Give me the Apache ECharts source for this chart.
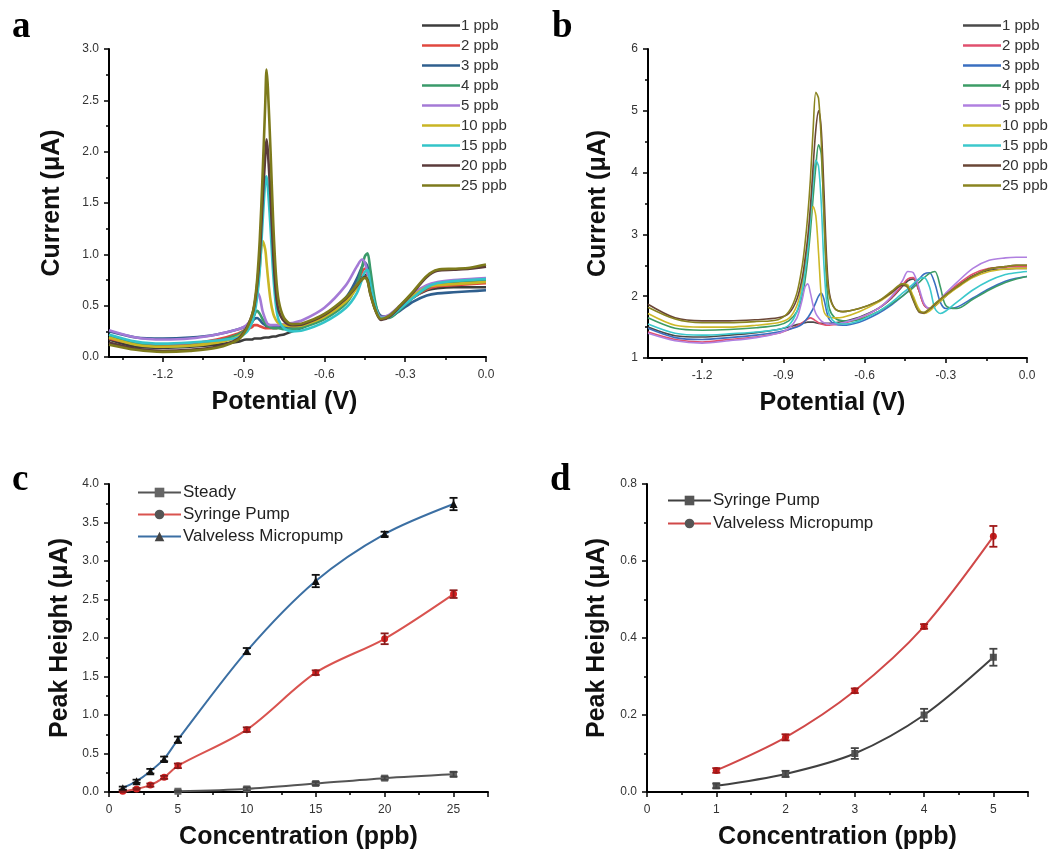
<!DOCTYPE html>
<html><head><meta charset="utf-8">
<script src="https://cdn.jsdelivr.net/npm/echarts@6/dist/echarts.min.js"></script>
<style>html,body{margin:0;padding:0;background:#fff}#c{width:1060px;height:855px}</style>
</head><body><div id="c"></div>
<script>
// ---------- Panel a/b data ----------
const concLabels = ['1 ppb','2 ppb','3 ppb','4 ppb','5 ppb','10 ppb','15 ppb','20 ppb','25 ppb'];
const potA = [-1.4,-1.3,-1.2,-1.1,-1.0,-0.92,-0.89,-0.87,-0.86,-0.85,-0.84,-0.83,-0.82,-0.815,-0.81,-0.80,-0.79,-0.78,-0.77,-0.75,-0.72,-0.68,-0.6,-0.52,-0.48,-0.46,-0.45,-0.44,-0.43,-0.41,-0.39,-0.36,-0.32,-0.27,-0.22,-0.18,-0.12,-0.06,0];
const a1  = [0.17,0.10,0.09,0.10,0.12,0.15,0.17,0.17,0.18,0.18,0.18,0.185,0.19,0.19,0.19,0.195,0.20,0.20,0.21,0.22,0.25,0.29,0.39,0.56,0.70,0.78,0.80,0.77,0.64,0.46,0.37,0.39,0.47,0.58,0.65,0.67,0.68,0.68,0.68];
const a2  = [0.18,0.13,0.12,0.13,0.17,0.23,0.27,0.29,0.31,0.31,0.30,0.29,0.28,0.28,0.28,0.28,0.28,0.28,0.29,0.29,0.30,0.32,0.40,0.57,0.72,0.83,0.86,0.82,0.68,0.48,0.39,0.40,0.48,0.58,0.66,0.69,0.70,0.71,0.72];
const a3  = [0.25,0.19,0.18,0.19,0.22,0.27,0.30,0.34,0.37,0.38,0.36,0.33,0.31,0.30,0.30,0.29,0.29,0.29,0.29,0.29,0.29,0.31,0.40,0.58,0.76,0.88,0.92,0.88,0.72,0.50,0.40,0.39,0.45,0.54,0.60,0.62,0.63,0.64,0.65];
const a4  = [0.20,0.13,0.10,0.11,0.15,0.22,0.27,0.33,0.41,0.45,0.42,0.37,0.33,0.31,0.30,0.29,0.28,0.28,0.28,0.27,0.27,0.29,0.37,0.52,0.70,0.88,0.98,1.01,0.86,0.52,0.38,0.38,0.46,0.58,0.67,0.71,0.73,0.74,0.75];
const a5  = [0.26,0.19,0.17,0.18,0.22,0.27,0.31,0.38,0.50,0.63,0.58,0.45,0.37,0.34,0.32,0.31,0.31,0.31,0.31,0.32,0.33,0.36,0.48,0.70,0.88,0.95,0.92,0.82,0.66,0.47,0.39,0.41,0.50,0.62,0.70,0.73,0.75,0.76,0.77];
const a10 = [0.19,0.12,0.10,0.11,0.14,0.20,0.27,0.36,0.45,0.62,0.88,1.13,1.05,0.92,0.78,0.55,0.42,0.36,0.33,0.31,0.30,0.31,0.39,0.54,0.67,0.75,0.78,0.76,0.64,0.46,0.37,0.39,0.48,0.60,0.68,0.70,0.71,0.72,0.73];
const a15 = [0.22,0.15,0.13,0.14,0.16,0.19,0.24,0.33,0.42,0.58,0.85,1.30,1.70,1.76,1.65,1.25,0.80,0.50,0.36,0.28,0.25,0.26,0.34,0.48,0.62,0.76,0.83,0.85,0.72,0.48,0.38,0.39,0.47,0.58,0.68,0.72,0.74,0.75,0.76];
const a20 = [0.14,0.08,0.06,0.07,0.10,0.18,0.28,0.40,0.50,0.70,1.00,1.50,1.95,2.12,2.00,1.55,1.00,0.62,0.45,0.35,0.31,0.32,0.41,0.57,0.69,0.76,0.78,0.75,0.62,0.45,0.36,0.39,0.49,0.63,0.78,0.84,0.85,0.86,0.88];
const a25 = [0.12,0.07,0.05,0.06,0.09,0.17,0.27,0.40,0.52,0.75,1.15,1.75,2.45,2.80,2.62,2.00,1.30,0.80,0.55,0.38,0.32,0.33,0.42,0.58,0.70,0.76,0.77,0.74,0.62,0.45,0.37,0.40,0.50,0.64,0.79,0.85,0.86,0.87,0.90];

const potB = [-1.4,-1.3,-1.2,-1.1,-1.0,-0.92,-0.88,-0.85,-0.83,-0.82,-0.81,-0.80,-0.79,-0.78,-0.77,-0.76,-0.75,-0.74,-0.73,-0.71,-0.68,-0.62,-0.55,-0.5,-0.46,-0.44,-0.42,-0.40,-0.38,-0.36,-0.34,-0.32,-0.30,-0.26,-0.2,-0.14,-0.08,-0.04,0];
const b1  = [1.50,1.36,1.34,1.37,1.41,1.46,1.50,1.54,1.56,1.57,1.58,1.58,1.58,1.57,1.56,1.56,1.56,1.56,1.56,1.57,1.59,1.66,1.80,1.97,2.16,2.25,2.28,2.10,1.86,1.80,1.84,1.92,2.00,2.15,2.33,2.42,2.44,2.45,2.45];
const b2  = [1.42,1.30,1.26,1.30,1.34,1.40,1.46,1.52,1.57,1.60,1.63,1.65,1.63,1.60,1.57,1.55,1.54,1.53,1.53,1.54,1.56,1.64,1.80,1.98,2.18,2.28,2.30,2.10,1.85,1.80,1.85,1.94,2.03,2.18,2.36,2.45,2.47,2.48,2.48];
const b3  = [1.48,1.33,1.30,1.33,1.37,1.42,1.46,1.50,1.55,1.60,1.65,1.72,1.80,1.90,2.00,2.05,1.95,1.75,1.62,1.55,1.53,1.58,1.72,1.86,2.00,2.08,2.17,2.27,2.36,2.38,2.20,1.90,1.80,1.82,1.97,2.12,2.24,2.29,2.32];
const b4  = [1.65,1.48,1.45,1.46,1.49,1.53,1.60,1.75,2.00,2.25,2.60,3.05,3.60,4.10,4.45,4.30,3.30,2.20,1.80,1.65,1.60,1.62,1.75,1.88,2.00,2.07,2.14,2.22,2.30,2.37,2.40,2.15,1.85,1.80,1.95,2.10,2.22,2.28,2.32];
const b5  = [1.40,1.28,1.24,1.28,1.33,1.40,1.48,1.65,1.95,2.15,2.20,2.05,1.85,1.72,1.65,1.60,1.57,1.56,1.55,1.55,1.57,1.65,1.80,2.00,2.25,2.40,2.38,2.15,1.88,1.80,1.85,1.95,2.05,2.22,2.45,2.58,2.62,2.63,2.63];
const b10 = [1.72,1.53,1.50,1.50,1.53,1.57,1.64,1.85,2.20,2.50,2.85,3.25,3.45,3.30,2.70,2.00,1.75,1.68,1.66,1.65,1.66,1.75,1.90,2.05,2.20,2.18,2.00,1.80,1.72,1.76,1.84,1.92,2.00,2.13,2.30,2.40,2.44,2.45,2.45];
const b15 = [1.55,1.40,1.37,1.39,1.42,1.46,1.53,1.75,2.10,2.40,2.75,3.25,3.85,4.20,4.10,3.50,2.50,1.90,1.70,1.58,1.55,1.60,1.75,1.90,2.05,2.12,2.20,2.28,2.30,2.15,1.80,1.72,1.76,1.90,2.10,2.25,2.35,2.38,2.40];
const b20 = [1.87,1.65,1.60,1.60,1.62,1.65,1.72,1.95,2.30,2.60,2.95,3.45,4.10,4.70,5.00,4.70,3.70,2.60,2.05,1.80,1.75,1.80,1.92,2.06,2.18,2.14,1.93,1.75,1.73,1.79,1.87,1.95,2.02,2.15,2.32,2.44,2.48,2.50,2.50];
const b25 = [1.82,1.63,1.57,1.57,1.59,1.62,1.75,2.05,2.50,2.85,3.30,3.90,4.70,5.30,5.20,4.50,3.30,2.40,2.00,1.80,1.75,1.80,1.92,2.08,2.20,2.15,1.95,1.76,1.74,1.80,1.88,1.95,2.02,2.15,2.32,2.44,2.48,2.50,2.50];

const colorsA = ['#3c3c3c','#e0483f','#2f5f8e','#3a9a6a','#a47ad6','#c9b524','#33c4c8','#5b3b3b','#7d7a1c'];
const colorsB = ['#4a4a4a','#e0506e','#3a6fc0','#3c9c66','#b080e0','#cdb828','#3cc8cc','#6a4636','#8a8420'];
const seriesA = [a1,a2,a3,a4,a5,a10,a15,a20,a25];
const seriesB = [b1,b2,b3,b4,b5,b10,b15,b20,b25];
const xTicksAB = [-1.2,-0.9,-0.6,-0.3,0];
const xMinorAB = [-1.35,-1.05,-0.75,-0.45,-0.15];

// ---------- Panel c data ----------
const concC = [1,2,3,4,5,10,15,20,25];
const cValveless = [0.05,0.14,0.27,0.43,0.68,1.83,2.74,3.35,3.74];
const cValvelessErr = [0.02,0.02,0.03,0.03,0.04,0.04,0.08,0.03,0.08];
const cSyringe = [0.01,0.04,0.09,0.19,0.34,0.81,1.55,1.99,2.57];
const cSyringeErr = [0.01,0.01,0.02,0.02,0.03,0.03,0.03,0.07,0.05];
const cSteady = [null,null,null,null,0.01,0.04,0.11,0.18,0.23];
const cSteadyErr = [null,null,null,null,0.01,0.02,0.02,0.02,0.03];

// ---------- Panel d data ----------
const concD = [1,2,3,4,5];
const dSyringe = [0.016,0.047,0.10,0.20,0.35];
const dSyringeErr = [0.006,0.008,0.014,0.016,0.022];
const dValveless = [0.056,0.142,0.263,0.430,0.664];
const dValvelessErr = [0.006,0.008,0.006,0.006,0.027];

const FONT = '"Liberation Sans", Arial, sans-serif';
const axisLineStyle = {onZero:false, lineStyle:{color:'#000', width:2}};
const labelStyle = {color:'#333', fontSize:12, fontFamily:FONT};
const nameStyle = {fontSize:25, fontWeight:'bold', fontFamily:FONT, color:'#111'};

function xAB(grid, idx){
  return [{
    gridIndex:grid, type:'value', min:-1.4, max:0, position:'bottom',
    axisLine:axisLineStyle, splitLine:{show:false},
    axisTick:{customValues:xTicksAB, length:5, lineStyle:{color:'#000', width:1.5}},
    axisLabel:Object.assign({customValues:xTicksAB, margin:12, formatter:v=>v.toFixed(1)}, labelStyle),
    name:'Potential (V)', nameLocation:'middle', nameGap:33,
    nameTextStyle:Object.assign({padding: idx===0 ? [0,26,0,0] : [0,10,0,0]}, nameStyle)
  },{
    gridIndex:grid, type:'value', min:-1.4, max:0, position:'bottom',
    axisLine:{show:false, onZero:false}, splitLine:{show:false}, axisLabel:{show:false},
    axisTick:{customValues:xMinorAB, length:3, lineStyle:{color:'#000', width:1.5}}
  }];
}
function yAxisCfg(grid, min, max, interval, name, gap, dec){
  return {
    gridIndex:grid, type:'value', min:min, max:max, interval:interval, position:'left',
    axisLine:{show:true, onZero:false, lineStyle:{color:'#000', width:2}}, splitLine:{show:false},
    axisTick:{show:true, length:5, lineStyle:{color:'#000', width:1.5}},
    minorTick:{show:true, splitNumber:2, length:3, lineStyle:{color:'#000', width:1.5}},
    minorSplitLine:{show:false},
    axisLabel:Object.assign({margin:10, formatter:v=>v.toFixed(dec)}, labelStyle),
    name:name, nameLocation:'middle', nameGap:gap, nameTextStyle:nameStyle
  };
}
function xConc(grid, max, interval, gap){
  return {
    gridIndex:grid, type:'value', min:0, max:max, interval:interval,
    axisLine:axisLineStyle, splitLine:{show:false},
    axisTick:{length:5, lineStyle:{color:'#000', width:1.5}},
    minorTick:{show:true, splitNumber:2, length:3, lineStyle:{color:'#000', width:1.5}},
    axisLabel:Object.assign({margin:12, showMaxLabel:false}, labelStyle),
    name:'Concentration (ppb)', nameLocation:'middle', nameGap:gap, nameTextStyle:nameStyle
  };
}

const xAxes = [].concat(xAB(0,0), xAB(1,1), [xConc(2,27.5,5,33), xConc(3,5.5,1,33)]);
const yAxes = [
  yAxisCfg(0,0,3,0.5,'Current (μA)',44,1),
  yAxisCfg(1,1,6,1,'Current (μA)',37,0),
  yAxisCfg(2,0,4,0.5,'Peak Height (μA)',36,1),
  yAxisCfg(3,0,0.8,0.2,'Peak Height (μA)',37,1)
];

const series = [];
seriesA.forEach((arr,i)=>{
  series.push({name:'a:'+concLabels[i], type:'line', xAxisIndex:0, yAxisIndex:0,
    data:potA.map((v,k)=>[v,arr[k]]), symbol:'none', smooth:0.3,
    lineStyle:{color:colorsA[i], width:2.6}, itemStyle:{color:colorsA[i]}});
});
seriesB.forEach((arr,i)=>{
  series.push({name:'b:'+concLabels[i], type:'line', xAxisIndex:2, yAxisIndex:1,
    data:potB.map((v,k)=>[v,arr[k]]), symbol:'none', smooth:0.3,
    lineStyle:{color:colorsB[i], width:1.6}, itemStyle:{color:colorsB[i]}});
});

function errSeries(xi, yi, xs, ys, es, color){
  return {type:'custom', xAxisIndex:xi, yAxisIndex:yi, z:5,
    data: xs.map((x,k)=> ys[k]==null ? null : [x, ys[k]-es[k], ys[k]+es[k]]).filter(d=>d),
    encode:{x:0, y:[1,2]},
    renderItem:(params, api)=>{
      const x = api.value(0);
      const lo = api.coord([x, api.value(1)]);
      const hi = api.coord([x, api.value(2)]);
      const w = 4;
      const st = {stroke:color, lineWidth:1.8};
      return {type:'group', children:[
        {type:'line', shape:{x1:lo[0],y1:lo[1],x2:hi[0],y2:hi[1]}, style:st},
        {type:'line', shape:{x1:lo[0]-w,y1:lo[1],x2:lo[0]+w,y2:lo[1]}, style:st},
        {type:'line', shape:{x1:hi[0]-w,y1:hi[1],x2:hi[0]+w,y2:hi[1]}, style:st}
      ]};
    }};
}

// panel c
series.push({name:'c:Steady', type:'line', xAxisIndex:4, yAxisIndex:2, smooth:0.3,
  data:concC.map((x,k)=>[x,cSteady[k]]).filter(d=>d[1]!=null), symbol:'rect', symbolSize:7,
  lineStyle:{color:'#555', width:2}, itemStyle:{color:'#666'}});
series.push({name:'c:Syringe Pump', type:'line', xAxisIndex:4, yAxisIndex:2, smooth:0.3,
  data:concC.map((x,k)=>[x,cSyringe[k]]), symbol:'circle', symbolSize:7,
  lineStyle:{color:'#d9534f', width:2}, itemStyle:{color:'#d42020'}});
series.push({name:'c:Valveless Micropump', type:'line', xAxisIndex:4, yAxisIndex:2, smooth:0.3,
  data:concC.map((x,k)=>[x,cValveless[k]]), symbol:'triangle', symbolSize:8,
  lineStyle:{color:'#3b6fa3', width:2}, itemStyle:{color:'#111'}});
series.push(errSeries(4,2,concC,cSteady,cSteadyErr,'#444'));
series.push(errSeries(4,2,concC,cSyringe,cSyringeErr,'#8a1a1a'));
series.push(errSeries(4,2,concC,cValveless,cValvelessErr,'#111'));

// panel d
series.push({name:'d:Syringe Pump', type:'line', xAxisIndex:5, yAxisIndex:3, smooth:0.3,
  data:concD.map((x,k)=>[x,dSyringe[k]]), symbol:'rect', symbolSize:7,
  lineStyle:{color:'#404040', width:2}, itemStyle:{color:'#555'}});
series.push({name:'d:Valveless Micropump', type:'line', xAxisIndex:5, yAxisIndex:3, smooth:0.3,
  data:concD.map((x,k)=>[x,dValveless[k]]), symbol:'circle', symbolSize:7,
  lineStyle:{color:'#d04848', width:2}, itemStyle:{color:'#c81e1e'}});
series.push(errSeries(5,3,concD,dSyringe,dSyringeErr,'#444'));
series.push(errSeries(5,3,concD,dValveless,dValvelessErr,'#a01818'));

const strip = n => n.replace(/^.:/,'');
const legends = [
  {orient:'vertical', left:422, top:18, padding:0, itemWidth:38, itemHeight:2.5, itemGap:5, icon:'rect',
    formatter:strip, selectedMode:false,
    textStyle:{fontFamily:FONT, color:'#333', fontSize:15, padding:[0,0,0,-4]},
    data:concLabels.map((n,i)=>({name:'a:'+n, itemStyle:{color:colorsA[i]}}))},
  {orient:'vertical', left:963, top:18, padding:0, itemWidth:38, itemHeight:2.5, itemGap:5, icon:'rect',
    formatter:strip, selectedMode:false,
    textStyle:{fontFamily:FONT, color:'#333', fontSize:15, padding:[0,0,0,-4]},
    data:concLabels.map((n,i)=>({name:'b:'+n, itemStyle:{color:colorsB[i]}}))},
  {orient:'vertical', left:137, top:484, padding:0, itemWidth:43, itemHeight:12, itemGap:5,
    formatter:strip, selectedMode:false,
    textStyle:{fontFamily:FONT, color:'#222', fontSize:17, padding:[0,0,0,-3]},
    data:[{name:'c:Steady', itemStyle:{color:'#666'}},
          {name:'c:Syringe Pump', itemStyle:{color:'#555'}},
          {name:'c:Valveless Micropump', itemStyle:{color:'#444'}}]},
  {orient:'vertical', left:667, top:492, padding:0, itemWidth:43, itemHeight:12, itemGap:6,
    formatter:strip, selectedMode:false,
    textStyle:{fontFamily:FONT, color:'#222', fontSize:17, padding:[0,0,0,-3]},
    data:[{name:'d:Syringe Pump', itemStyle:{color:'#555'}},
          {name:'d:Valveless Micropump', itemStyle:{color:'#555'}}]}
];

const letterFont = 'bold 37px "Liberation Serif", "Times New Roman", serif';
const option = {
  animation:false,
  backgroundColor:'#fff',
  grid:[
    {left:109, top:49, width:377, height:308},
    {left:648, top:49, width:379, height:309},
    {left:109, top:484, width:379, height:308},
    {left:647, top:484, width:381, height:308}
  ],
  xAxis:xAxes, yAxis:yAxes, legend:legends, series:series,
  graphic:[
    {type:'text', left:12, top:9, style:{text:'a', font:letterFont, fill:'#000'}},
    {type:'text', left:552, top:9, style:{text:'b', font:letterFont, fill:'#000'}},
    {type:'text', left:12, top:462, style:{text:'c', font:letterFont, fill:'#000'}},
    {type:'text', left:550, top:462, style:{text:'d', font:letterFont, fill:'#000'}}
  ]
};
const chart = echarts.init(document.getElementById('c'), null, {renderer:'canvas'});
chart.setOption(option);
</script>
</body></html>
